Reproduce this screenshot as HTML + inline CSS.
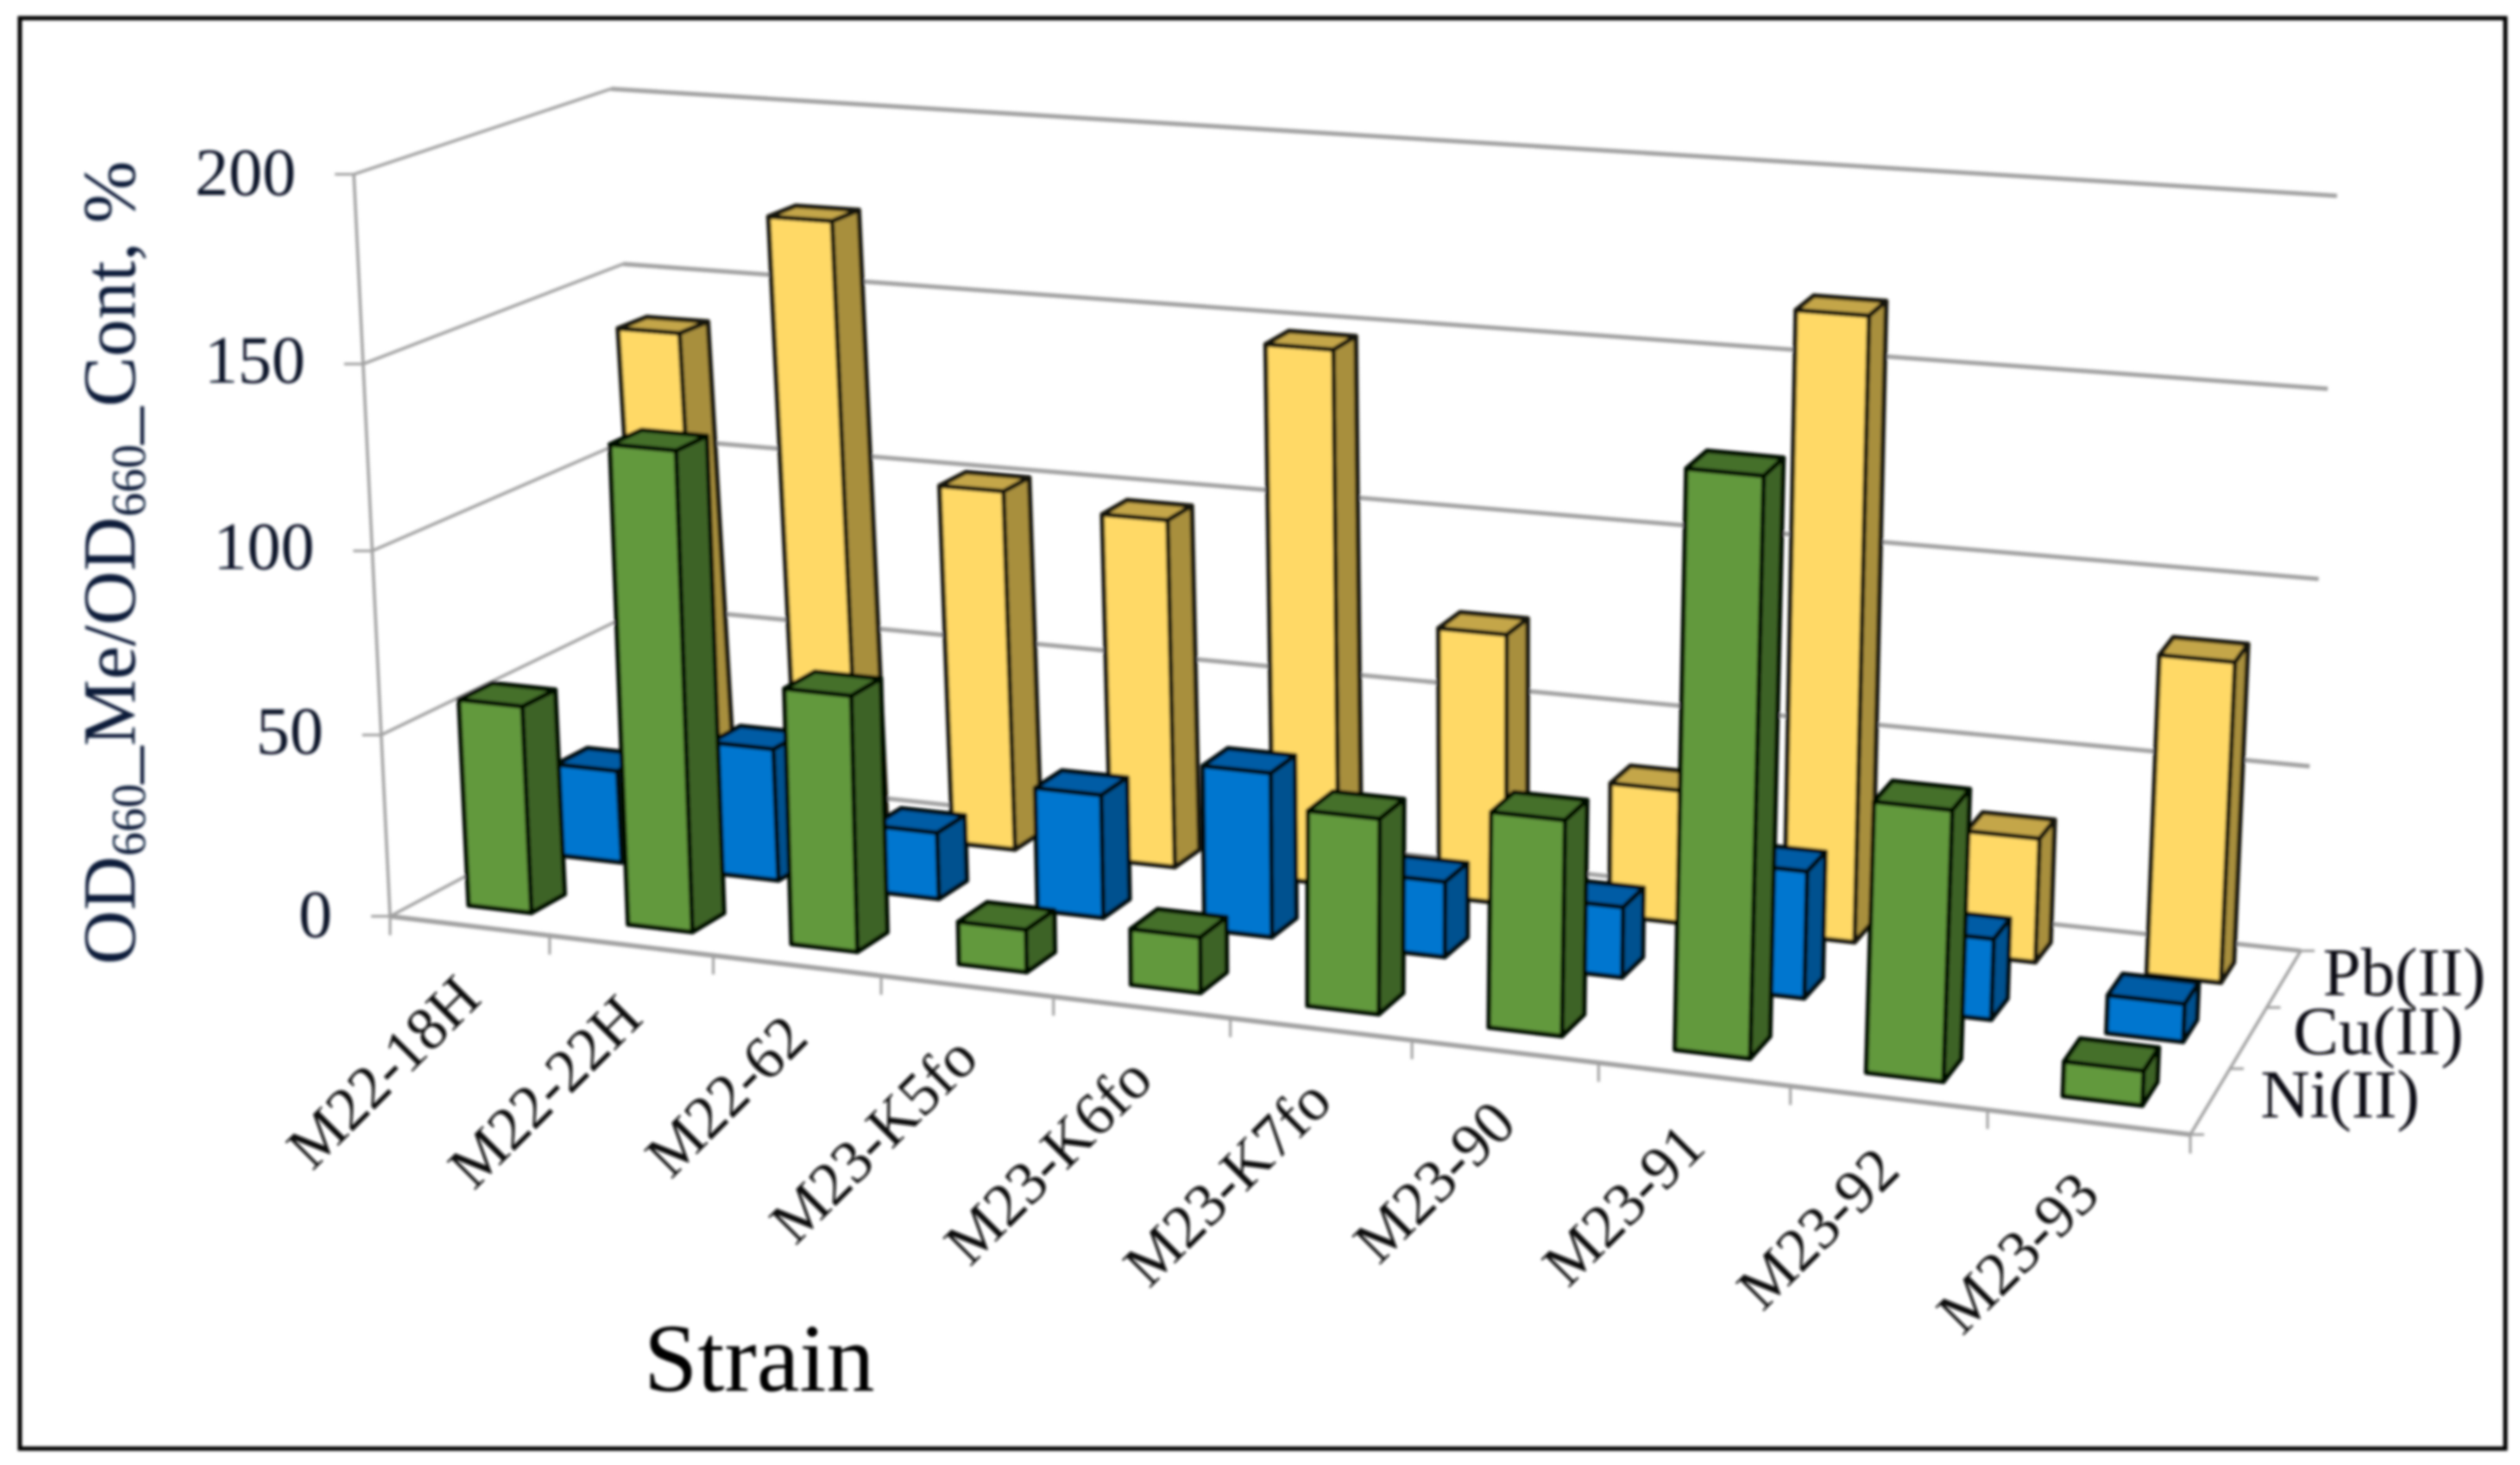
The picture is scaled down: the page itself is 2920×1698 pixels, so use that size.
<!DOCTYPE html>
<html lang="en">
<head>
<meta charset="utf-8">
<title>OD660 metal tolerance by strain</title>
<style>
html,body{margin:0;padding:0;background:#fff;}
svg{display:block;}
text{font-family:"Liberation Serif",serif;}
</style>
</head>
<body>
<svg id="chart" xmlns="http://www.w3.org/2000/svg" width="2920" height="1698" viewBox="0 0 2920 1698">
  <defs>
    <filter id="soft" filterUnits="userSpaceOnUse" x="0" y="0" width="2920" height="1698">
      <feGaussianBlur stdDeviation="1.5"/>
    </filter>
  </defs>
  <rect x="0" y="0" width="2920" height="1698" fill="#fff"/>
  <g filter="url(#soft)">
    <rect x="23" y="21" width="2880" height="1658" fill="none" stroke="#000" stroke-width="5"/>
    <g id="walls"></g>
    <g id="bars"></g>
    <g id="labels"></g>
    <text transform="translate(156,1118) rotate(-90)" font-size="87" fill="#0c1f3a">OD<tspan font-size="56" dy="12">660</tspan><tspan dy="-12">_Me/OD</tspan><tspan font-size="56" dy="12">660</tspan><tspan dy="-12">_Cont, %</tspan></text>
    <text x="746" y="1612" font-size="112" fill="#000">Strain</text>
  </g>
</svg>
<script>
const categories = ["M22-18H","M22-22H","M22-62","M23-K5fo","M23-K6fo","M23-K7fo","M23-90","M23-91","M23-92","M23-93"];
const niValues = [57,130.5,69.5,11.5,15,52,57,150.5,70.5,9];
const cuValues = [26,37,18.5,34,45,20.5,19,34,21.5,10];
const pbValues = [138.5,173,101.5,97.5,148,74.5,36.5,168,33.5,85.5];
const seriesNames = ["Ni(II)","Cu(II)","Pb(II)"];
const yTicks = [0,50,100,150,200];

const svgNS = "http://www.w3.org/2000/svg";
const maxValue = 200;
const FL = [452,1062], FR = [2538,1315], BR = [2666,1102], BL = [763,897];
const TILT_FL = [-42,-860], TILT_FR = [40,-925], TILT_BR = [42,-875], TILT_BL = [-55,-794];
const HEIGHT_CURVE = 0.03;

const homography = (function(){
  const dx1 = FR[0]-BR[0], dx2 = BL[0]-BR[0], sx = FL[0]-FR[0]+BR[0]-BL[0];
  const dy1 = FR[1]-BR[1], dy2 = BL[1]-BR[1], sy = FL[1]-FR[1]+BR[1]-BL[1];
  const den = dx1*dy2-dx2*dy1;
  const g = (sx*dy2-dx2*sy)/den, h = (dx1*sy-sx*dy1)/den;
  return {
    a:FR[0]-FL[0]+g*FR[0], b:BL[0]-FL[0]+h*BL[0], c:FL[0],
    d:FR[1]-FL[1]+g*FR[1], e:BL[1]-FL[1]+h*BL[1], f:FL[1], g:g, h:h
  };
})();

function project(u,v,value){
  const H = homography, w = H.g*u+H.h*v+1;
  const fx = (H.a*u+H.b*v+H.c)/w, fy = (H.d*u+H.e*v+H.f)/w;
  const r = value/maxValue;
  const t = r-HEIGHT_CURVE*r*(1-r);
  const tx = (1-u)*(1-v)*TILT_FL[0]+u*(1-v)*TILT_FR[0]+u*v*TILT_BR[0]+(1-u)*v*TILT_BL[0];
  const ty = (1-u)*(1-v)*TILT_FL[1]+u*(1-v)*TILT_FR[1]+u*v*TILT_BR[1]+(1-u)*v*TILT_BL[1];
  return [fx+t*tx, fy+t*ty];
}

function categoryU(i){ return (i+0.5)/categories.length; }
function seriesV(s){ return (s+0.5)/seriesNames.length; }

function make(tag,attrs,parent){
  const el = document.createElementNS(svgNS,tag);
  for(const k in attrs){ el.setAttribute(k,attrs[k]); }
  parent.appendChild(el);
  return el;
}
function pts(list){ return list.map(function(p){return p[0].toFixed(1)+","+p[1].toFixed(1);}).join(" "); }

const walls = document.getElementById("walls");
const labels = document.getElementById("labels");
const bars = document.getElementById("bars");
const gridColor = "#a0a0a0";

function line(a,b,width,parent,name){
  const el = make("line",{x1:a[0],y1:a[1],x2:b[0],y2:b[1],stroke:gridColor,"stroke-width":width},parent);
  
  
  return el;
}

/* gridlines and value axis */
yTicks.forEach(function(val){
  const front = project(0,0,val), back = project(0,1,val), right = project(1,1,val);
  const r = val/maxValue;
  if(val>0){ line(front,back,3.5,walls,"side-wall-gridline"); }
  line(back,right,5,walls,"back-wall-gridline");
  line([front[0]-22,front[1]],front,3,walls,"y-axis-tick");
  const t = make("text",{x:front[0]-67,y:front[1]+24-12*r*(1-r),"font-size":78,"text-anchor":"end",fill:"#10182c"},labels);
  
  
  t.textContent = String(val);
});
line(project(0,0,0),project(0,0,maxValue),3.5,walls,"y-axis-line");
line(project(0,0,0),project(0,1,0),3.5,walls,"floor-left-edge");
line(project(0,0,0),project(1,0,0),5.5,walls,"x-axis-line");
line(project(1,0,0),project(1,1,0),3.5,walls,"depth-axis-line");

/* category ticks and labels */
for(let i=0;i<=categories.length;i++){
  const p = project(i/categories.length,0,0);
  line(p,[p[0],p[1]+22],3,walls,"x-axis-tick");
}
categories.forEach(function(name,i){
  const p = project(categoryU(i),0,0);
  const x = p[0]+16, y = p[1]+87;
  const t = make("text",{x:x,y:y,"font-size":71,"text-anchor":"end",fill:"#111",transform:"rotate(-45 "+x+" "+y+")"},labels);
  
  
  t.textContent = name;
});

/* depth ticks and series legend */
for(let s=0;s<=seriesNames.length;s++){
  const p = project(1,s/seriesNames.length,0);
  line(p,[p[0]+16,p[1]],3,walls,"depth-axis-tick");
}
seriesNames.forEach(function(name,s){
  const p = project(1,seriesV(s),0);
  const t = make("text",{x:p[0]+58-6.5*s,y:p[1]+19,"font-size":79,fill:"#0a0a14"},labels);
  
  
  t.textContent = name;
});

/* bars: back series first so nearer series paint over */
const halfU = 0.0198, halfV = 0.06;
const seriesValues = [niValues,cuValues,pbValues];
const seriesColors = [
  {front:"#62993c",side:"#3e6327",top:"#44702b",stroke:"#060c04"},
  {front:"#0276cf",side:"#00518f",top:"#005ca5",stroke:"#01080e"},
  {front:"#ffd966",side:"#a88f3e",top:"#c4a64a",stroke:"#151207"}
];
[2,1,0].forEach(function(s){
  const values = seriesValues[s], col = seriesColors[s], v = seriesV(s);
  values.forEach(function(val,i){
    const u = categoryU(i);
    const u0=u-halfU,u1=u+halfU,v0=v-halfV,v1=v+halfV;
    const g = make("g",{"stroke":col.stroke,"stroke-width":5.5,"stroke-linejoin":"round"},bars);
    
    
    const side = make("polygon",{points:pts([project(u1,v0,0),project(u1,v1,0),project(u1,v1,val),project(u1,v0,val)]),fill:col.side},g);
    
    
    const front = make("polygon",{points:pts([project(u0,v0,0),project(u1,v0,0),project(u1,v0,val),project(u0,v0,val)]),fill:col.front},g);
    
    
    const top = make("polygon",{points:pts([project(u0,v0,val),project(u1,v0,val),project(u1,v1,val),project(u0,v1,val)]),fill:col.top},g);
    
    
  });
});
</script>
</body>
</html>
